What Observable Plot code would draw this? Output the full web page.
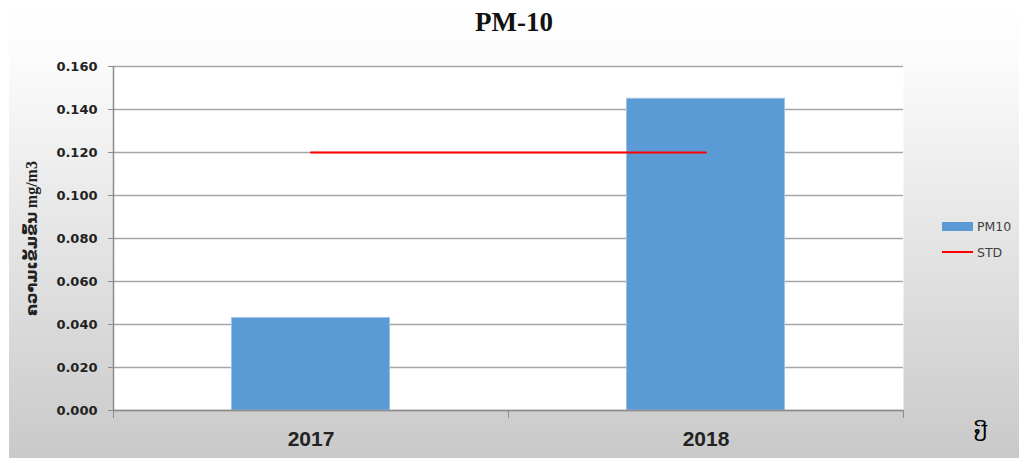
<!DOCTYPE html>
<html><head><meta charset="utf-8">
<script src="https://cdn.jsdelivr.net/npm/d3@7"></script>
<script src="https://cdn.jsdelivr.net/npm/@observablehq/plot@0.6"></script>
<style>
body{margin:0;background:#fff}
#wrap{position:relative;width:1019px;height:458px;overflow:hidden;background:#fff}
#bg{position:absolute;left:9px;top:0;right:0;bottom:0;background:linear-gradient(#ffffff 0%, #fcfcfc 12%, #c9c9c9 100%)}
#title{position:absolute;left:9px;right:0;top:9px;text-align:center;font:bold 27px/27px "Liberation Serif",serif;color:#111}
#chart{position:absolute;left:0;top:45px}
.legitem{position:absolute;left:942px;height:16px;display:flex;align-items:center;font:12.5px "DejaVu Sans",sans-serif;color:#404040}
.legitem .sw{width:31px;margin-right:4px}
#xlab{position:absolute;left:974px;top:421px;font:21px/26px "DejaVu Sans",sans-serif;color:#000}
</style></head><body>
<div id="wrap"><div id="bg"></div><div id="title">PM-10</div><div id="chart"></div><div id="legend"></div><div id="xlab">ປີ</div></div>
<script>
// ---- data ----
const years = [2017, 2018];
const pm10 = [0.043, 0.145];
const std = [0.12, 0.12];
const yTicks = [0, 0.02, 0.04, 0.06, 0.08, 0.10, 0.12, 0.14, 0.16];
const yLabel = "ຄວາມເຂັ້ມຂົ້ນ mg/m3";
const legendLabels = ["PM10", "STD"];
const legendColors = ["#5b9bd5", "#ff0000"];

const data = years.map((y, i) => ({year: y, pm10: pm10[i], std: std[i]}));
const x0 = years[0] - 0.5, x1 = years[years.length - 1] + 0.5;
const bounds = d3.range(years.length + 1).map(i => x0 + i);

const chart = Plot.plot({
  width: 1019, height: 413,
  marginLeft: 113, marginRight: 116, marginTop: 21, marginBottom: 48,
  style: {background: "transparent", overflow: "visible"},
  x: {domain: [x0, x1]},
  y: {domain: [0, 0.16]},
  marks: [
    Plot.frame({fill: "white", stroke: null}),
    Plot.ruleY(yTicks, {stroke: "#a6a6a6", strokeWidth: 1.5}),
    Plot.rectY(data, {x1: d => d.year - 0.2, x2: d => d.year + 0.2, y1: 0, y2: "pm10", fill: "#5b9bd5", stroke: "#9cc2e8", strokeWidth: 1}),
    Plot.line(data, {x: "year", y: "std", stroke: "#ff0000", strokeWidth: 2}),
    Plot.ruleY([0], {stroke: "#8c8c8c", strokeWidth: 1.5}),
    Plot.ruleX([x0], {stroke: "#8c8c8c", strokeWidth: 1.5}),
    Plot.axisY({ticks: yTicks, tickFormat: d3.format(".3f"), tickSize: 5, tickPadding: 11, stroke: "#8c8c8c", color: "#222", fontFamily: "DejaVu Sans", fontSize: 13, fontWeight: "bold", label: null}),
    Plot.axisY({ticks: [], label: yLabel, labelAnchor: "center", labelOffset: 88, labelArrow: "none", color: "#222", fontFamily: "'Liberation Serif','DejaVu Sans',serif", fontSize: 16, fontWeight: "bold"}),
    Plot.axisX({ticks: bounds, tickSize: 8, tickFormat: () => "", stroke: "#8c8c8c", label: null}),
    Plot.axisX({ticks: years, tickSize: 0, tickPadding: 21, tickFormat: d => String(d), color: "#222", fontFamily: "Liberation Sans", fontSize: 21, fontWeight: "bold", label: null})
  ]
});
document.getElementById("chart").appendChild(chart);

const leg = document.getElementById("legend");
legendLabels.forEach((t, i) => {
  const it = document.createElement("div");
  it.className = "legitem";
  it.style.top = (218 + i * 26) + "px";
  const sw = document.createElement("div");
  sw.className = "sw";
  sw.style.background = legendColors[i];
  sw.style.height = i === 0 ? "9px" : "2px";
  it.appendChild(sw);
  it.appendChild(document.createTextNode(t));
  leg.appendChild(it);
});
</script>
</body></html>
